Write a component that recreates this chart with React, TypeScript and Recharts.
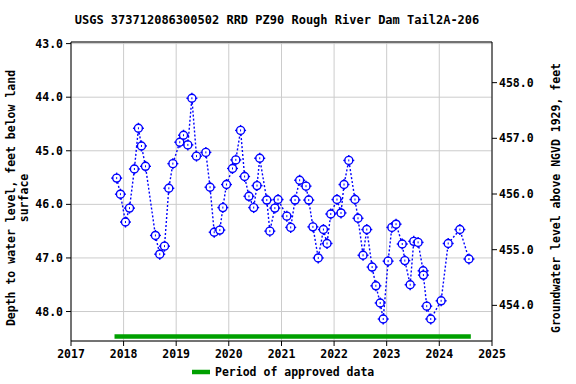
import React from 'react';
import { LineChart, Line, XAxis, YAxis, CartesianGrid } from 'recharts';

const sampleDates = [
  '2017-11-14', '2017-12-10', '2018-01-14', '2018-02-11', '2018-03-17', '2018-04-14', '2018-05-05', '2018-06-02',
  '2018-08-10', '2018-09-09', '2018-10-12', '2018-11-11', '2018-12-09', '2019-01-26', '2019-02-21', '2019-03-23',
  '2019-04-20', '2019-05-22', '2019-07-26', '2019-08-24', '2019-09-22', '2019-10-31', '2019-11-21', '2019-12-16',
  '2020-01-27', '2020-02-19', '2020-03-23', '2020-04-20', '2020-05-20', '2020-06-22', '2020-07-15', '2020-08-03',
  '2020-09-21', '2020-10-12', '2020-11-16', '2020-12-08', '2021-02-07', '2021-03-06', '2021-04-05', '2021-05-07',
  '2021-06-20', '2021-07-09', '2021-08-07', '2021-09-13', '2021-10-19', '2021-11-13', '2021-12-09', '2022-01-21',
  '2022-02-18', '2022-03-11', '2022-04-13', '2022-05-26', '2022-06-16', '2022-07-21', '2022-08-16', '2022-09-22',
  '2022-10-18', '2022-11-17', '2022-12-08', '2023-01-11', '2023-02-06', '2023-03-07', '2023-04-19', '2023-05-07',
  '2023-06-13', '2023-07-08', '2023-08-07', '2023-09-11', '2023-09-13', '2023-10-06', '2023-11-03', '2024-01-14',
  '2024-03-03', '2024-05-23', '2024-07-25',
];

const depthValues = [
  45.51, 45.81, 46.33, 46.07, 45.34, 44.58, 44.91, 45.29,
  46.58, 46.93, 46.78, 45.70, 45.24, 44.84, 44.71, 44.89,
  44.02, 45.10, 45.03, 45.68, 46.52, 46.48, 46.06, 45.63,
  45.33, 45.17, 44.62, 45.48, 45.85, 46.06, 45.65, 45.14,
  45.92, 46.50, 46.07, 45.91, 46.22, 46.43, 45.92, 45.55,
  45.66, 45.92, 46.42, 47.00, 46.47, 46.73, 46.18, 45.91,
  46.16, 45.63, 45.18, 45.91, 46.26, 46.95, 46.47, 47.17,
  47.52, 47.84, 48.14, 47.06, 46.43, 46.37, 46.74, 47.05,
  47.50, 46.69, 46.71, 47.24, 47.32, 47.90, 48.14, 47.80,
  46.73, 46.47, 47.02,
];

const approvedPeriod = ['2017-10-30', '2024-08-07'];
const approvedLevel = 48.466;

const yearLabels = ['2017', '2018', '2019', '2020', '2021', '2022', '2023', '2024', '2025'];
const depthTicks = [43, 44, 45, 46, 47, 48];
const elevationTicks = [454, 455, 456, 457, 458];

const FONT = '"DejaVu Sans Mono", monospace';
const BLUE = '#0000ff';
const GREEN = '#00a000';

const toTime = (d: string) => Date.parse(d + 'T00:00:00Z');

const seriesData = sampleDates.map((d, i) => ({ t: toTime(d), depth: depthValues[i] }));
const approvedData = approvedPeriod.map((d) => ({ t: toTime(d), v: approvedLevel }));
const xTicks = yearLabels.map((y) => toTime(y + '-01-01'));

const tickStyle = { fontFamily: FONT, fontWeight: 'bold' as const, fontSize: 11.5, fill: '#000' };

const Marker = (props: any) => {
  const { cx, cy } = props;
  if (cx == null || cy == null) return null;
  const r = 4;
  return (
    <g stroke={BLUE} strokeWidth={1.4} fill="none">
      <circle cx={cx} cy={cy} r={r} fill="#fff" />
      <line x1={cx} y1={cy - r - 1.5} x2={cx} y2={cy - r + 0.5} />
      <line x1={cx} y1={cy + r - 0.5} x2={cx} y2={cy + r + 1.5} />
      <line x1={cx - r - 1.5} y1={cy} x2={cx - r + 0.5} y2={cy} />
      <line x1={cx + r - 0.5} y1={cy} x2={cx + r + 1.5} y2={cy} />
      <line x1={cx} y1={cy - 1} x2={cx} y2={cy + 1} strokeWidth={1} />
    </g>
  );
};

export default function App() {
  return (
    <div style={{ position: 'absolute', left: 0, top: 0, width: 576, height: 384 }}>
      <LineChart
        width={576}
        height={384}
        margin={{ top: 0, right: 0, bottom: 0, left: 0 }}
      >
        <CartesianGrid yAxisId="left" stroke="#cccccc" strokeWidth={1} />
        <XAxis
          xAxisId="top"
          orientation="top"
          type="number"
          dataKey="t"
          domain={[xTicks[0], xTicks[xTicks.length - 1]]}
          allowDataOverflow
          height={42}
          tick={false}
          tickLine={false}
          axisLine={{ stroke: '#000', strokeWidth: 1 }}
        />
        <XAxis
          type="number"
          dataKey="t"
          domain={[xTicks[0], xTicks[xTicks.length - 1]]}
          allowDataOverflow
          ticks={xTicks}
          tickFormatter={(v: number) => String(new Date(v).getUTCFullYear())}
          height={43}
          tick={tickStyle}
          tickSize={5}
          tickMargin={4}
          tickLine={{ stroke: '#000' }}
          axisLine={{ stroke: '#000', strokeWidth: 1 }}
          interval={0}
        />
        <YAxis
          yAxisId="left"
          reversed
          domain={[42.97, 48.55]}
          allowDataOverflow
          ticks={depthTicks}
          tickFormatter={(v: number) => v.toFixed(1)}
          width={71}
          tick={tickStyle}
          tickSize={5}
          tickMargin={3}
          tickLine={{ stroke: '#000' }}
          axisLine={{ stroke: '#000', strokeWidth: 1 }}
          interval={0}
          label={(p: any) => (
            <text
              transform="translate(10.5,198) rotate(-90)"
              textAnchor="middle"
              style={tickStyle}
            >
              <tspan x={0} dy="0.35em">Depth to water level, feet below land</tspan>
              <tspan x={0} dy="13.5">surface</tspan>
            </text>
          )}
        />
        <YAxis
          yAxisId="right"
          orientation="right"
          domain={[453.36, 458.73]}
          allowDataOverflow
          ticks={elevationTicks}
          tickFormatter={(v: number) => v.toFixed(1)}
          width={84}
          tick={tickStyle}
          tickSize={5}
          tickMargin={2}
          tickLine={{ stroke: '#000' }}
          axisLine={{ stroke: '#000', strokeWidth: 1 }}
          interval={0}
          label={(p: any) => (
            <text
              transform="translate(556,198) rotate(-90)"
              textAnchor="middle"
              dominantBaseline="central"
              style={tickStyle}
            >
              Groundwater level above NGVD 1929, feet
            </text>
          )}
        />
        <Line
          yAxisId="left"
          data={approvedData}
          dataKey="v"
          stroke={GREEN}
          strokeWidth={4.5}
          dot={false}
          activeDot={false}
          isAnimationActive={false}
        />
        <Line
          yAxisId="right"
          data={[]}
          dataKey="v"
          stroke="none"
          dot={false}
          activeDot={false}
          isAnimationActive={false}
        />
        <Line
          yAxisId="left"
          data={seriesData}
          dataKey="depth"
          stroke={BLUE}
          strokeWidth={1.4}
          strokeDasharray="2 2"
          dot={<Marker />}
          activeDot={false}
          isAnimationActive={false}
        />
      </LineChart>
      <svg
        width={576}
        height={384}
        style={{ position: 'absolute', left: 0, top: 0, pointerEvents: 'none' }}
      >
        <text x={277} y={20} textAnchor="middle" dominantBaseline="central" style={{ ...tickStyle, fontSize: 12 }}>
          USGS 373712086300502 RRD PZ90 Rough River Dam Tail2A-206
        </text>
        <line x1={192} y1={372} x2={210} y2={372} stroke={GREEN} strokeWidth={4.5} />
        <text x={215} y={372} dominantBaseline="central" style={tickStyle}>
          Period of approved data
        </text>
      </svg>
    </div>
  );
}
